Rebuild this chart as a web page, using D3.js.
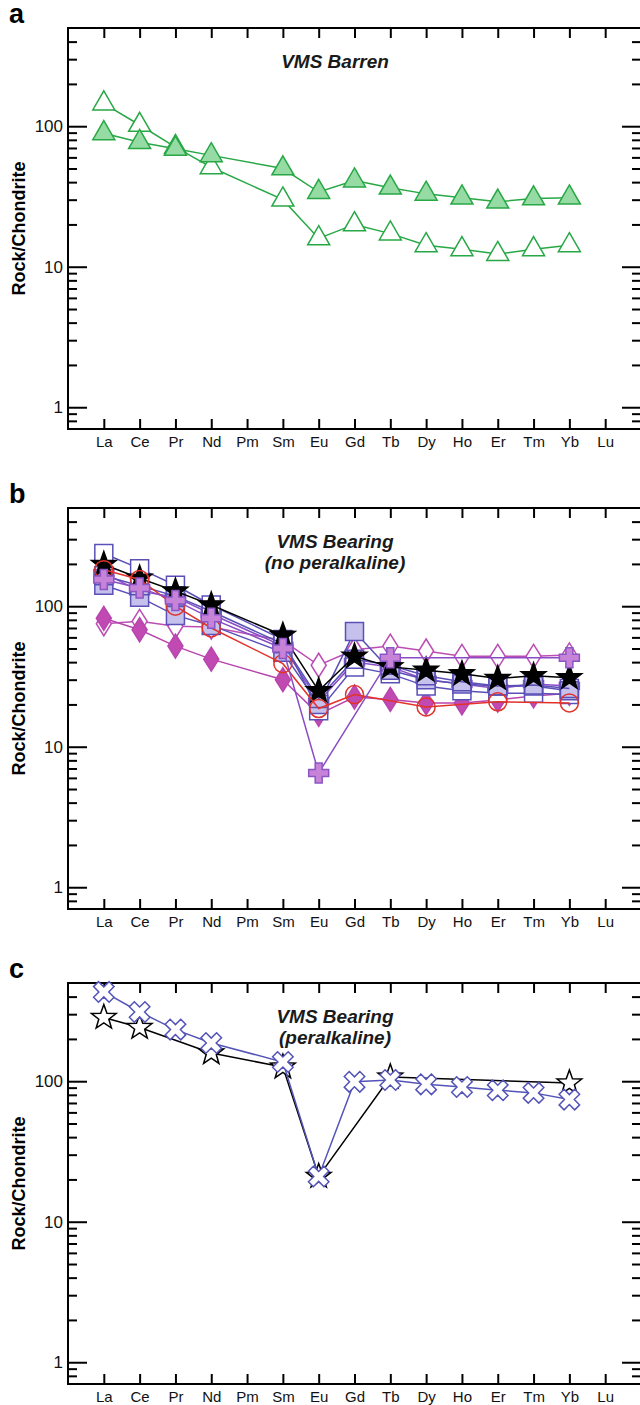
<!DOCTYPE html>
<html>
<head>
<meta charset="utf-8">
<script src="https://cdn.jsdelivr.net/npm/d3@7/dist/d3.min.js"></script>
<style>
  body { margin: 0; background: #fff; }
</style>
</head>
<body>
<svg id="chart" width="640" height="1405"></svg>
<script>
// REE order on the x axis (index 1..15)
const elements = ["La", "Ce", "Pr", "Nd", "Pm", "Sm", "Eu", "Gd", "Tb", "Dy", "Ho", "Er", "Tm", "Yb", "Lu"];
const majorTicks = [1, 10, 100];
const minorTicks = [0.8, 0.9, 2, 3, 4, 5, 6, 7, 8, 9, 20, 30, 40, 50, 60, 70, 80, 90, 200, 300, 400];

// panel a - VMS barren
const barrenFilled = [89, 77, 69, 62, null, 50, 34, 41, 36.5, 33, 31, 29, 30.6, 31, null];
const barrenOpen = [145, 102, 71, 51, null, 30, 15.9, 20, 17.2, 14.2, 13.3, 12.3, 13.3, 14.2, null];

// panel b - VMS bearing, no peralkaline
const bearDiamondOpen = [75, 78, 72, 71, null, 57, 38, 49, 52, 48, 44, 44, 44, 45, null];
const bearDiamondFill = [82, 68, 52, 42, null, 30, 17, 22.6, 21.7, 20.5, 20.5, 21.5, 23, 24, null];
const bearCrossB = [172, 128, 116, 88, null, 52, 21, 40, 37, 30, 28, 26, 28, 27, null];
const bearSquareOpen = [237, 185, 141, 102, null, 58, 18, 37, 33, 27, 25, 24, 24, 23.5, null];
const bearSquareFill = [141, 116, 86, 73, null, 47, 20, 66, 35, 30, 28, 27, 27, 25, null];
const bearSquareOpen2 = [165, 140, 118, 92, null, 54, 22, 42, 38, 32, 29, 27, 27.5, 26, null];
const bearStar = [198, 158, 128, 102, null, 62, 25, 44, 37, 35, 33, 30.6, 32, 31, null];
const bearCircle = [182, 155, 100, 70, null, 39, 18.7, 23.5, null, 19.2, null, 20.9, null, 20.5, null];
const bearCrossA = [155, 135, 110, 82, null, 50, 6.5, null, 43, null, null, null, null, 43, null];

// panel c - VMS bearing, peralkaline
const peraStar = [284, 241, null, 159, null, 126, 21, null, 107, null, null, null, null, 97, null];
const peraX = [432, 311, 233, 187, null, 137, 21, 99, 102, 95, 91, 86.3, 82.6, 74, null];

var svg = d3.select("#chart");

let cs = {
    left: 68,
    right: 641,
    height: 401,
    yMin: 0.7,
    yMax: 500,
    major: 19,
    minor: 9,
    xTick: 10
};

// marker outlines centred on the data point
let shapes = {
    triangle: "M0,-12.7L11,6.35L-11,6.35Z",
    square: "M-9,-9H9V9H-9Z",
    diamond: "M0,-12L7.5,0L0,12L-7.5,0Z",
    circle: "M9,0A9,9 0 1 1 -9,0A9,9 0 1 1 9,0Z",
    star: (function () {
        let pts = [];
        for (let i = 0; i < 10; i++) {
            let r = i % 2 ? 5.3 : 13, a = -Math.PI / 2 + i * Math.PI / 5;
            pts.push([r * Math.cos(a), r * Math.sin(a)]);
        }
        return "M" + pts.map(p => p[0].toFixed(2) + "," + p[1].toFixed(2)).join("L") + "Z";
    })(),
    plus: "M-3.5,-10H3.5V-3.5H10V3.5H3.5V10H-3.5V3.5H-10V-3.5H-3.5Z",
    cross: "M-3.5,-11H3.5V-3.5H11V3.5H3.5V11H-3.5V3.5H-11V-3.5H-3.5Z"
};

let panels = [
    {
        letter: "a", top: 28, title: ["VMS Barren"],
        series: [
            { values: barrenOpen, shape: "triangle", line: "#27a845", stroke: "#27a845", fill: "#fff" },
            { values: barrenFilled, shape: "triangle", line: "#27a845", stroke: "#27a845", fill: "#96dba4" }
        ]
    },
    {
        letter: "b", top: 508, title: ["VMS Bearing", "(no peralkaline)"],
        series: [
            { values: bearDiamondOpen, shape: "diamond", line: "#bb4db4", stroke: "#bb4db4", fill: "#fff" },
            { values: bearDiamondFill, shape: "diamond", line: "#b845ae", stroke: "#b845ae", fill: "#c04ab2" },
            { values: bearCrossB, shape: "plus", line: "#8a4cc4", stroke: "#8a55c4", fill: "#c783d8" },
            { values: bearSquareOpen, shape: "square", line: "#5a50b8", stroke: "#5a50b8", fill: "#fff" },
            { values: bearSquareFill, shape: "square", line: "#5a50b8", stroke: "#5a50b8", fill: "#c6c0ec" },
            { values: bearSquareOpen2, shape: "square", line: "#5a50b8", stroke: "#5a50b8", fill: "none" },
            { values: bearStar, shape: "star", line: "#000", stroke: "#000", fill: "#000" },
            { values: bearCircle, shape: "circle", line: "#e2322a", stroke: "#e2322a", fill: "none" },
            { values: bearCrossA, shape: "plus", line: "#8a4cc4", stroke: "#8a55c4", fill: "#c783d8" }
        ]
    },
    {
        letter: "c", top: 983, title: ["VMS Bearing", "(peralkaline)"],
        series: [
            { values: peraStar, shape: "star", line: "#000", stroke: "#000", fill: "#fff" },
            { values: peraX, shape: "cross", line: "#5454b8", stroke: "#5454b8", fill: "#fff", rotate: 45 }
        ]
    }
];

var drawPanel = function (p) {
    let top = p.top, bottom = p.top + cs.height;
    let g = svg.append("g");

    let x = d3.scaleLinear().domain([0, 16]).range([cs.left, cs.right]);
    let y = d3.scaleLog().domain([cs.yMin, cs.yMax]).range([bottom, top]);

    let clean = sel => {
        sel.select(".domain").remove();
        sel.selectAll(".tick line").attr("stroke", "#000").attr("stroke-width", 2);
        sel.selectAll("text").attr("fill", "#111");
    };

    // y ticks, left and right, pointing inward
    g.append("g").attr("transform", "translate(" + cs.left + ",0)")
        .call(d3.axisLeft(y).tickValues(minorTicks).tickSize(-cs.minor).tickFormat("")).call(clean);
    g.append("g").attr("transform", "translate(" + cs.left + ",0)")
        .call(d3.axisLeft(y).tickValues(majorTicks).tickSize(-cs.major).tickPadding(5).tickFormat(d3.format("d")))
        .call(clean)
        .attr("font-family", "'Liberation Sans', Arial, sans-serif").attr("font-size", 17);
    g.append("g").attr("transform", "translate(" + cs.right + ",0)")
        .call(d3.axisRight(y).tickValues(minorTicks).tickSize(-cs.minor).tickFormat("")).call(clean);
    g.append("g").attr("transform", "translate(" + cs.right + ",0)")
        .call(d3.axisRight(y).tickValues(majorTicks).tickSize(-cs.major).tickFormat("")).call(clean);

    // x ticks, bottom with element labels, top bare
    let idx = d3.range(1, elements.length + 1);
    g.append("g").attr("transform", "translate(0," + bottom + ")")
        .call(d3.axisBottom(x).tickValues(idx).tickSize(-cs.xTick).tickPadding(7).tickFormat(i => elements[i - 1]))
        .call(clean)
        .attr("font-family", "'Liberation Sans Narrow', 'Liberation Sans', Arial, sans-serif").attr("font-size", 15);
    g.append("g").attr("transform", "translate(0," + top + ")")
        .call(d3.axisTop(x).tickValues(idx).tickSize(-cs.xTick).tickFormat("")).call(clean);

    // frame
    g.append("rect")
        .attr("x", cs.left).attr("y", top)
        .attr("width", cs.right - cs.left).attr("height", cs.height)
        .attr("fill", "none").attr("stroke", "#000").attr("stroke-width", 2);

    // panel letter
    g.append("text")
        .attr("x", 9).attr("y", top - 5)
        .attr("font-family", "'Liberation Sans', Arial, sans-serif")
        .attr("font-weight", "bold").attr("font-size", 27)
        .text(p.letter);

    // y title
    g.append("text")
        .attr("transform", "translate(25," + (top + cs.height / 2) + ") rotate(-90)")
        .attr("text-anchor", "middle")
        .attr("font-family", "'Liberation Sans', Arial, sans-serif")
        .attr("font-weight", "bold").attr("font-size", 18)
        .text("Rock/Chondrite");

    // panel title
    g.append("g").selectAll("text")
        .data(p.title)
        .enter().append("text")
        .attr("x", 335)
        .attr("y", (d, i) => top + 40 + i * 21)
        .attr("text-anchor", "middle")
        .attr("font-family", "'Liberation Sans', Arial, sans-serif")
        .attr("font-weight", "bold").attr("font-style", "italic").attr("font-size", 19)
        .attr("fill", "#1a1a1a")
        .text(d => d);

    // series
    let line = d3.line().x(d => x(d.i)).y(d => y(d.v));
    p.series.forEach(s => {
        let pts = s.values.map((v, i) => ({ i: i + 1, v: v })).filter(d => d.v != null);
        let sg = g.append("g");
        sg.append("path")
            .datum(pts)
            .attr("d", line)
            .attr("fill", "none")
            .attr("stroke", s.line)
            .attr("stroke-width", 1.5);
        sg.selectAll("path.mark")
            .data(pts)
            .enter().append("path")
            .attr("class", "mark")
            .attr("d", shapes[s.shape])
            .attr("transform", d => "translate(" + x(d.i) + "," + y(d.v) + ")" + (s.rotate ? " rotate(" + s.rotate + ")" : ""))
            .attr("fill", s.fill)
            .attr("stroke", s.stroke)
            .attr("stroke-width", 1.5)
            .attr("stroke-linejoin", "miter");
    });
};

panels.forEach(p => drawPanel(p));
</script>
</body>
</html>
